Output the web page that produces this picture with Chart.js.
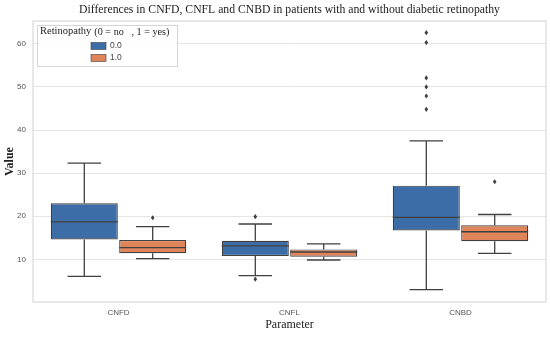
<!DOCTYPE html>
<html>
<head>
<meta charset="utf-8">
<script src="https://cdn.jsdelivr.net/npm/chart.js@4.4.1/dist/chart.umd.min.js"></script>
<style>
  html, body { margin: 0; padding: 0; background: #fff; }
  #grafico { display: block; }
</style>
</head>
<body>
<canvas id="grafico" width="550" height="340"></canvas>
<script>
// Categorias e grupos
const categorias = ["CNFD", "CNFL", "CNBD"];
const grupos = ["0.0", "1.0"];

// Retinopatia = 0 (azul)
const semQ1 = [14.6, 10.8, 16.7];
const semMediana = [18.7, 13.1, 19.75];
const semQ3 = [23.0, 14.3, 27.1];
const semMin = [6.05, 6.2, 2.95];
const semMax = [32.3, 18.2, 37.5];
const semOutliers = [[], [19.9, 5.4], [62.6, 60.3, 52.1, 50.0, 47.9, 44.8]];

// Retinopatia = 1 (laranja)
const comQ1 = [11.4, 10.6, 14.2];
const comMediana = [12.7, 11.7, 16.4];
const comQ3 = [14.5, 12.3, 17.9];
const comMin = [10.15, 9.85, 11.4];
const comMax = [17.6, 13.6, 20.4];
const comOutliers = [[19.65], [], [28.0]];

const ticksY = [10, 20, 30, 40, 50, 60];

const corAzul = "#3d6da6";
const corLaranja = "#e0845a";
const corLinha = "#404040";

const estatisticas = [
    { mediana: semMediana, min: semMin, max: semMax, outliers: semOutliers },
    { mediana: comMediana, min: comMin, max: comMax, outliers: comOutliers }
];

// Desenha medianas, bigodes, outliers, borda e legenda
const pluginBoxplot = {
    id: "boxplot",
    afterDatasetsDraw(chart) {
        const ctx = chart.ctx;
        const y = chart.scales.y;
        const area = chart.chartArea;

        ctx.save();
        ctx.strokeStyle = corLinha;
        ctx.fillStyle = corLinha;
        ctx.lineWidth = 1.3;

        estatisticas.forEach((est, d) => {
            const meta = chart.getDatasetMeta(d);
            meta.data.forEach((barra, i) => {
                const x = barra.x;
                const meia = barra.width / 2;
                const ds = chart.data.datasets[d].data[i];
                const q1 = y.getPixelForValue(ds[0]);
                const q3 = y.getPixelForValue(ds[1]);
                const med = y.getPixelForValue(est.mediana[i]);
                const lo = y.getPixelForValue(est.min[i]);
                const hi = y.getPixelForValue(est.max[i]);

                ctx.beginPath();
                ctx.moveTo(x - meia, med); ctx.lineTo(x + meia, med);
                ctx.moveTo(x, q3); ctx.lineTo(x, hi);
                ctx.moveTo(x, q1); ctx.lineTo(x, lo);
                ctx.moveTo(x - meia / 2, hi); ctx.lineTo(x + meia / 2, hi);
                ctx.moveTo(x - meia / 2, lo); ctx.lineTo(x + meia / 2, lo);
                ctx.stroke();

                est.outliers[i].forEach(v => {
                    const py = y.getPixelForValue(v);
                    ctx.beginPath();
                    ctx.moveTo(x, py - 2.6);
                    ctx.lineTo(x + 1.8, py);
                    ctx.lineTo(x, py + 2.6);
                    ctx.lineTo(x - 1.8, py);
                    ctx.closePath();
                    ctx.fill();
                });
            });
        });

        // borda da área do gráfico
        ctx.strokeStyle = "#dcdcdc";
        ctx.lineWidth = 1.3;
        ctx.strokeRect(area.left, area.top, area.right - area.left, area.bottom - area.top);

        // legenda
        const lx = area.left + 4, ly = area.top + 4;
        ctx.fillStyle = "rgba(255,255,255,0.85)";
        ctx.fillRect(lx, ly, 140, 41);
        ctx.strokeStyle = "#d6d6d6";
        ctx.lineWidth = 1;
        ctx.strokeRect(lx + 0.5, ly + 0.5, 140, 41);

        ctx.fillStyle = "#222";
        ctx.textBaseline = "middle";
        ctx.textAlign = "left";
        ctx.font = "10.5px 'Liberation Serif'";
        ctx.fillText("Retinopathy", lx + 3, ly + 6);
        const largura = ctx.measureText("Retinopathy").width;
        ctx.font = "10.2px 'Liberation Serif'";
        ctx.fillText("(0 = no   , 1 = yes)", lx + 6 + largura, ly + 7);

        const cores = [corAzul, corLaranja];
        grupos.forEach((g, k) => {
            const cy = ly + 21 + k * 12;
            ctx.fillStyle = cores[k];
            ctx.fillRect(lx + 54, cy - 3.5, 15, 7);
            ctx.strokeStyle = corLinha;
            ctx.lineWidth = 0.6;
            ctx.strokeRect(lx + 54, cy - 3.5, 15, 7);
            ctx.fillStyle = "#444";
            ctx.font = "8.5px 'Liberation Sans'";
            ctx.fillText(g, lx + 73, cy);
        });
        ctx.restore();
    }
};

new Chart(document.getElementById("grafico"), {
    type: "bar",
    data: {
        labels: categorias,
        datasets: [
            {
                label: grupos[0],
                data: semQ1.map((q, i) => [q, semQ3[i]]),
                backgroundColor: corAzul,
                borderColor: corLinha,
                borderWidth: 1.2,
                borderSkipped: false,
                categoryPercentage: 0.8,
                barPercentage: 0.98
            },
            {
                label: grupos[1],
                data: comQ1.map((q, i) => [q, comQ3[i]]),
                backgroundColor: corLaranja,
                borderColor: corLinha,
                borderWidth: 1.2,
                borderSkipped: false,
                categoryPercentage: 0.8,
                barPercentage: 0.98
            }
        ]
    },
    options: {
        responsive: false,
        devicePixelRatio: 1,
        animation: false,
        layout: { padding: { left: 0, right: 4, top: 0, bottom: 0 } },
        plugins: {
            legend: { display: false },
            tooltip: { enabled: false },
            title: {
                display: true,
                fullSize: false,
                text: "Differences in CNFD, CNFL and CNBD in patients with and without diabetic retinopathy",
                color: "#222",
                font: { family: "'Liberation Serif'", size: 11.7, weight: "normal" },
                padding: { top: 3, bottom: 3.96 }
            }
        },
        scales: {
            x: {
                grid: { display: false, drawTicks: false },
                border: { display: false },
                ticks: { color: "#555", font: { family: "'Liberation Sans'", size: 8 }, padding: 6 },
                title: {
                    display: true,
                    text: "Parameter",
                    color: "#222",
                    font: { family: "'Liberation Serif'", size: 12 },
                    padding: { top: 0, bottom: 7.8 }
                },
                afterFit: (scale) => { scale.height = 38; }
            },
            y: {
                min: 0.1,
                max: 65.3,
                grid: { color: "#e5e5e5", lineWidth: 1, drawTicks: false },
                border: { display: false },
                ticks: {
                    stepSize: 10,
                    includeBounds: false,
                    color: "#555",
                    padding: 7,
                    font: { family: "'Liberation Sans'", size: 8 },
                    callback: (v) => ticksY.includes(v) ? v : ""
                },
                title: {
                    display: true,
                    text: "Value",
                    color: "#222",
                    font: { family: "'Liberation Serif'", size: 12, weight: "bold" },
                    padding: { top: 3, bottom: 0 }
                },
                afterFit: (scale) => { scale.width = 33; }
            }
        }
    },
    plugins: [pluginBoxplot]
});
</script>
</body>
</html>
